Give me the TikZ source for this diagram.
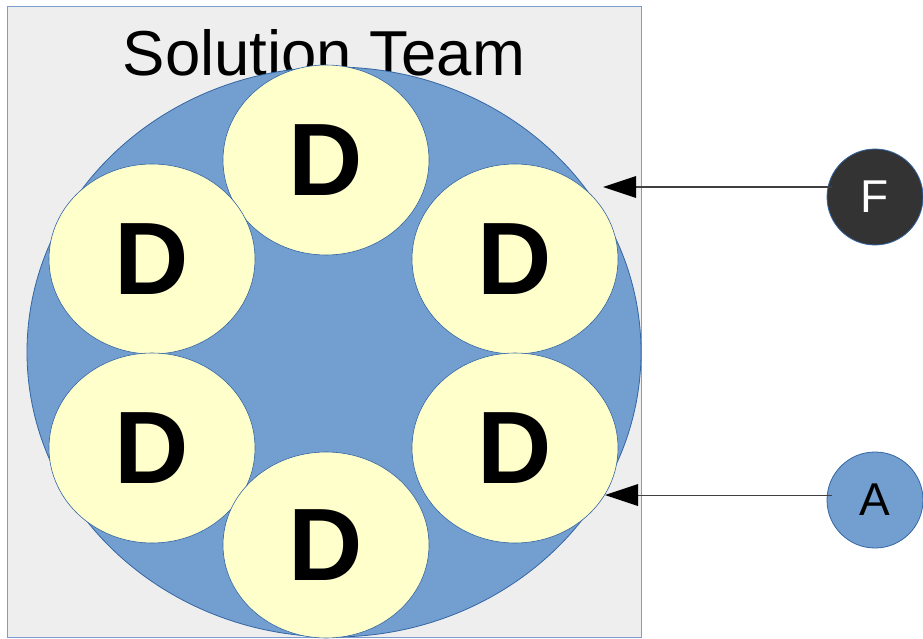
\documentclass[tikz,border=0pt]{standalone}
\usepackage{fontspec}
\setmainfont{Liberation Sans}
\usetikzlibrary{shapes.geometric,arrows.meta}
\definecolor{frameblue}{HTML}{7A9CCF}
\definecolor{bigblue}{HTML}{729FCF}
\definecolor{edgeblue}{HTML}{3465A4}
\definecolor{pale}{HTML}{FFFFCC}
\definecolor{framefill}{HTML}{EEEEEE}
\definecolor{dark}{HTML}{333333}
\definecolor{linegray}{HTML}{404040}
\tikzset{
  dnode/.style={ellipse, draw=edgeblue, line width=0.6pt, fill=pale, minimum width=206pt, minimum height=190pt, inner sep=0pt, font=\fontsize{103}{103}\selectfont\bfseries},
  roundnode/.style={circle, draw=edgeblue, line width=0.8pt, minimum size=96pt, inner sep=0pt, font=\fontsize{46}{46}\selectfont},
  arr/.style={draw=linegray, line width=1.4pt, -{Triangle[length=33pt,width=22pt,fill=black,line width=0pt]}}
}
\begin{document}
\begin{tikzpicture}[x=1pt,y=-1pt]
\useasboundingbox (0,0) rectangle (923,639);
\node[draw=frameblue, line width=1pt, fill=framefill, minimum width=634pt, minimum height=630pt, inner sep=0pt] (frame) at (324,322) {};
\node[font=\fontsize{63.5}{63.5}\selectfont, anchor=base, inner sep=0pt] (title) at (324,76) {Solution Team};
\node[ellipse, draw=edgeblue, line width=0.8pt, fill=bigblue, minimum width=614pt, minimum height=570pt, inner sep=0pt] (team) at (334,352) {};
\node[dnode] (d1) at (326,160) {D};
\node[dnode] (d2) at (515,259) {D};
\node[dnode] (d3) at (152,259) {D};
\node[dnode] (d4) at (152,448) {D};
\node[dnode] (d5) at (515,448) {D};
\node[dnode, minimum height=186pt] (d6) at (326,545) {D};
\node[roundnode, fill=dark, text=white] (F) at (875,197) {F};
\node[roundnode, fill=bigblue, text=black] (A) at (875,500) {A};
\coordinate (ftip) at (603,187);
\coordinate (atip) at (605,495);
\draw[arr] ([xshift=5pt]F.west |- ftip) -- (ftip);
\draw[arr, line width=1pt] ([xshift=5pt]A.west |- atip) -- (atip);
\end{tikzpicture}
\end{document}
